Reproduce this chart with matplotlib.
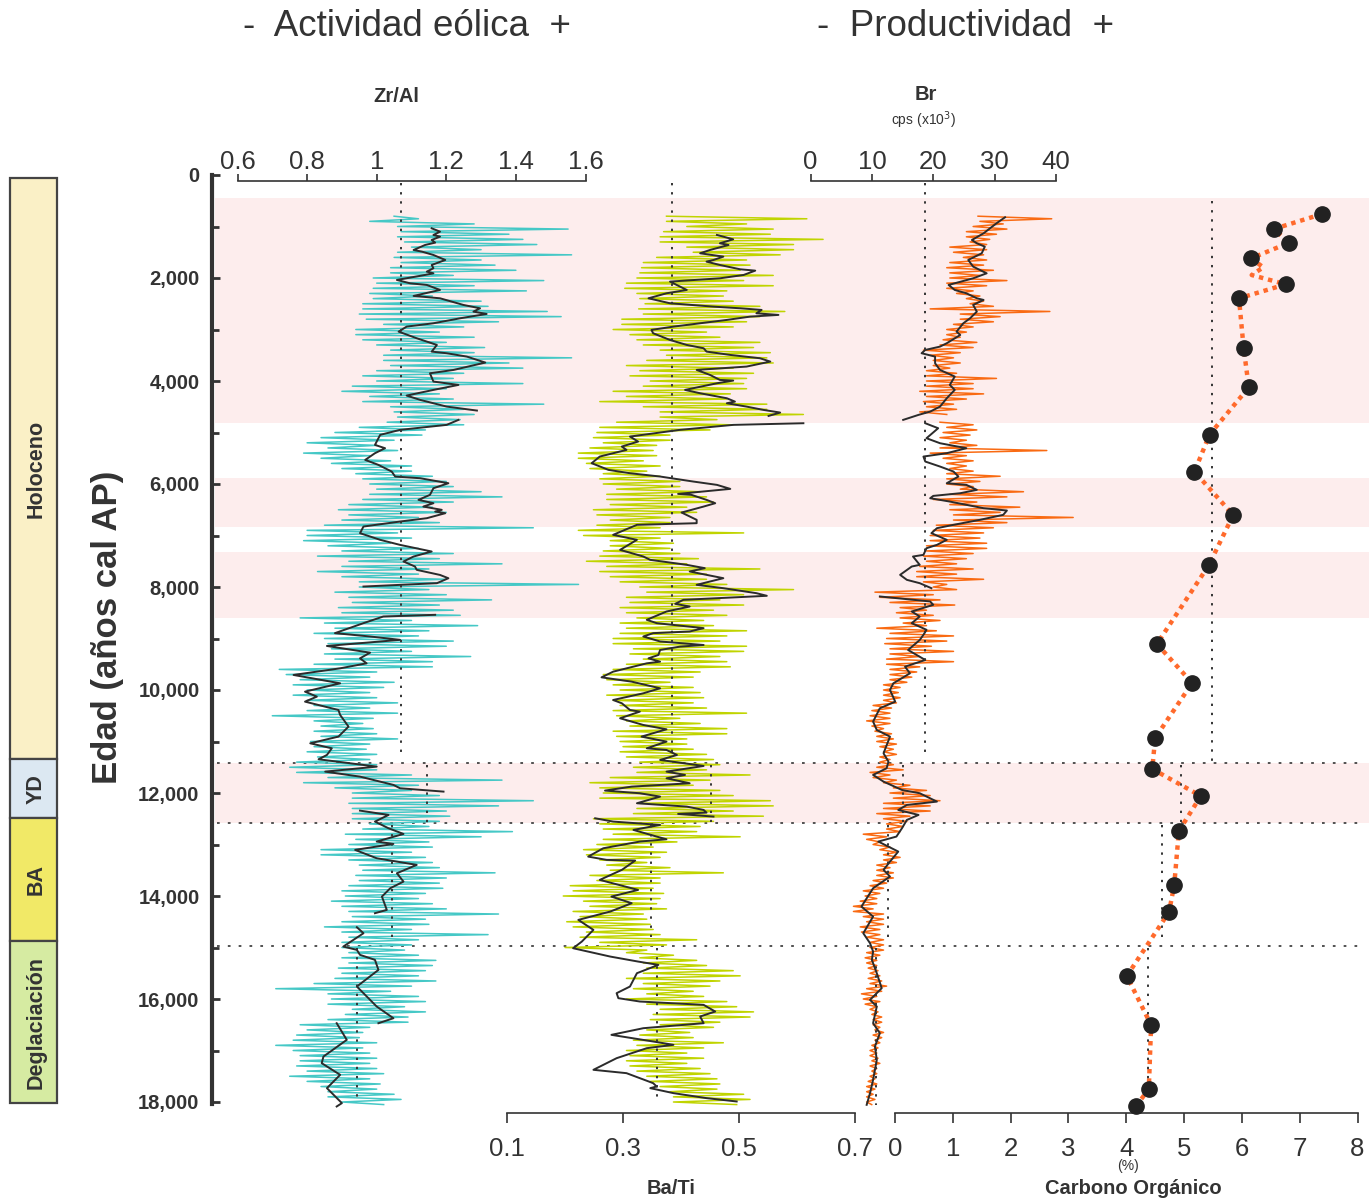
import numpy as np
import matplotlib.pyplot as plt
from matplotlib.patches import Rectangle

plt.rcParams['font.family'] = ['Liberation Sans', 'DejaVu Sans']
nan = np.nan
NARROW = ['Liberation Sans Narrow', 'Liberation Sans', 'DejaVu Sans']

# ---------------- datos ----------------
# muestreo de las series de alta resolucion: envolvente baja/alta cada 100 años
noisy_age = np.arange(800, 18001, 100)

zr_lo = [1.05, 0.98,
         1.06, 1.07, 1.06, 1.08, 1.10, 1.06, 1.05, 1.07, 1.04, 1.04,
         0.99, 1.00, 0.99, 0.98, 0.99, 0.96, 0.96, 0.95, 0.97, 1.02,
         0.94, 0.94, 0.96, 1.00, 1.04, 1.02, 1.02, 1.04, 1.00, 0.96,
         1.00, 0.93, 0.90, 0.98, 0.96, 1.04, 1.05, 1.06, 1.03, 0.95,
         0.88, 0.84, 0.80, 0.86, 0.79, 0.84, 0.87, 0.90, 0.94, 0.96,
         0.98, 1.00, 0.98, 0.96, 0.92, 0.89, 0.92, 0.90, 0.85, 0.80,
         0.80, 0.79, 0.86, 0.90, 0.83, 0.92, 0.90, 0.83, 0.90, 0.95,
         0.95, 0.88, 0.92, 0.93, 0.89, 0.90, 0.78, 0.85, 0.88, 0.82,
         0.85, 0.86, 0.87, 0.85, 0.88, 0.82, 0.72, 0.74, 0.78, 0.76,
         0.80, 0.76, 0.80, 0.82, 0.80, 0.70, 0.82, 0.84, 0.82, 0.84,
         0.81, 0.82, 0.80, 0.83, 0.77, 0.75, 0.77, 0.86, 0.79, 0.88,
         0.93, 0.93, 0.92, 0.93, 0.93, 0.93, 0.98, 0.96, 0.91, 0.94,
         0.92, 0.84, 0.84, 0.92, 0.95, 0.96, 0.94, 0.95, 0.92, 0.90,
         0.91, 0.87, 0.90, 0.92, 0.93, 0.90, 0.85, 0.90, 0.92, 0.90,
         0.90, 0.92, 0.90, 0.92, 0.89, 0.90, 0.88, 0.82, 0.71, 0.86,
         0.87, 0.86, 0.93, 0.91, 0.86, 0.78, 0.80, 0.77, 0.76, 0.71,
         0.76, 0.78, 0.78, 0.77, 0.80, 0.75, 0.80, 0.84, 0.86, 0.86,
         0.90]
zr_hi = [1.12, 1.28,
         1.55, 1.38, 1.42, 1.46, 1.30, 1.56, 1.30, 1.34, 1.40, 1.22,
         1.48, 1.28, 1.43, 1.16, 1.30, 1.32, 1.49, 1.53, 1.35, 1.25,
         1.18, 1.28, 1.20, 1.31, 1.28, 1.56, 1.38, 1.42, 1.25, 1.22,
         1.42, 1.20, 1.18, 1.22, 1.48, 1.25, 1.28, 1.24, 1.25, 1.14,
         1.13, 1.05, 1.00, 1.06, 0.98, 1.04, 1.10, 1.10, 1.16, 1.20,
         1.22, 1.30, 1.36, 1.22, 1.16, 1.20, 1.12, 1.18, 1.45, 1.06,
         1.10, 1.04, 1.12, 1.22, 1.18, 1.36, 1.15, 1.12, 1.20, 1.58,
         1.15, 1.20, 1.33, 1.18, 1.22, 1.24, 1.10, 1.29, 1.15, 1.12,
         1.22, 1.20, 1.10, 1.27, 1.16, 1.16, 1.00, 0.98, 1.05, 1.02,
         0.98, 1.00, 1.06, 0.98, 1.06, 0.99, 0.96, 0.99, 1.00, 1.06,
         0.98, 0.97, 1.00, 0.98, 1.00, 1.00, 1.10, 1.36, 1.12, 1.10,
         1.18, 1.45, 1.35, 1.20, 1.21, 1.18, 1.15, 1.39, 1.30, 1.15,
         1.16, 1.10, 1.14, 1.16, 1.18, 1.34, 1.20, 1.18, 1.19, 1.14,
         1.12, 1.16, 1.20, 1.35, 1.14, 1.15, 1.10, 1.32, 1.12, 1.10,
         1.08, 1.12, 1.17, 1.16, 1.14, 1.12, 1.17, 1.10, 1.04, 1.12,
         1.14, 1.08, 1.14, 1.09, 1.09, 0.98, 0.96, 0.95, 1.00, 0.96,
         0.98, 1.00, 0.98, 1.00, 1.02, 0.98, 1.01, 1.00, 1.05, 1.07,
         1.02]

ba_lo = [0.375, 0.375,
         0.410, 0.370, 0.364, 0.364, 0.410, 0.421, 0.358, 0.335, 0.332, 0.329,
         0.324, 0.306, 0.303, 0.324, 0.329, 0.338, 0.327, 0.335, 0.298, 0.298,
         0.283, 0.312, 0.324, 0.335, 0.364, 0.375, 0.341, 0.306, 0.329, 0.312,
         0.347, 0.335, 0.283, 0.306, 0.260, 0.335, 0.364, 0.364, 0.289, 0.260,
         0.255, 0.249, 0.266, 0.243, 0.223, 0.223, 0.237, 0.243, 0.266, 0.260,
         0.266, 0.289, 0.272, 0.272, 0.278, 0.249, 0.255, 0.278, 0.255, 0.223,
         0.232, 0.278, 0.278, 0.266, 0.260, 0.237, 0.272, 0.260, 0.278, 0.295,
         0.329, 0.341, 0.306, 0.312, 0.295, 0.306, 0.324, 0.295, 0.306, 0.295,
         0.283, 0.283, 0.318, 0.312, 0.335, 0.306, 0.283, 0.266, 0.272, 0.283,
         0.295, 0.272, 0.283, 0.295, 0.283, 0.289, 0.306, 0.312, 0.283, 0.289,
         0.295, 0.300, 0.295, 0.306, 0.329, 0.318, 0.324, 0.278, 0.243, 0.260,
         0.266, 0.260, 0.329, 0.324, 0.318, 0.249, 0.260, 0.266, 0.283, 0.266,
         0.255, 0.232, 0.237, 0.260, 0.272, 0.278, 0.243, 0.255, 0.209, 0.214,
         0.197, 0.232, 0.243, 0.214, 0.226, 0.203, 0.214, 0.237, 0.226, 0.260,
         0.200, 0.306, 0.329, 0.335, 0.341, 0.335, 0.306, 0.335, 0.318, 0.341,
         0.306, 0.341, 0.364, 0.352, 0.347, 0.364, 0.341, 0.329, 0.318, 0.324,
         0.306, 0.312, 0.306, 0.312, 0.324, 0.341, 0.347, 0.364, 0.381, 0.387,
         0.387]
ba_hi = [0.617, 0.513,
         0.559, 0.554, 0.645, 0.594, 0.594, 0.571, 0.513, 0.519, 0.502, 0.559,
         0.508, 0.559, 0.479, 0.473, 0.490, 0.536, 0.579, 0.536, 0.513, 0.490,
         0.444, 0.467, 0.536, 0.525, 0.554, 0.548, 0.559, 0.490, 0.525, 0.513,
         0.508, 0.513, 0.485, 0.479, 0.548, 0.548, 0.611, 0.462, 0.490, 0.450,
         0.381, 0.381, 0.358, 0.352, 0.358, 0.335, 0.364, 0.341, 0.364, 0.398,
         0.398, 0.433, 0.444, 0.456, 0.410, 0.427, 0.381, 0.381, 0.364, 0.508,
         0.364, 0.387, 0.381, 0.398, 0.430, 0.410, 0.536, 0.444, 0.444, 0.479,
         0.594, 0.508, 0.467, 0.508, 0.456, 0.479, 0.439, 0.456, 0.513, 0.479,
         0.467, 0.513, 0.508, 0.467, 0.479, 0.485, 0.433, 0.421, 0.381, 0.421,
         0.433, 0.439, 0.421, 0.444, 0.513, 0.398, 0.433, 0.479, 0.479, 0.410,
         0.410, 0.421, 0.444, 0.456, 0.467, 0.444, 0.519, 0.450, 0.421, 0.467,
         0.490, 0.554, 0.559, 0.490, 0.542, 0.456, 0.433, 0.427, 0.502, 0.393,
         0.352, 0.375, 0.364, 0.341, 0.381, 0.473, 0.364, 0.364, 0.352, 0.370,
         0.364, 0.358, 0.375, 0.335, 0.341, 0.347, 0.352, 0.364, 0.427, 0.375,
         0.341, 0.387, 0.427, 0.444, 0.490, 0.502, 0.467, 0.450, 0.421, 0.439,
         0.479, 0.496, 0.525, 0.519, 0.467, 0.456, 0.415, 0.421, 0.473, 0.439,
         0.410, 0.439, 0.410, 0.433, 0.450, 0.462, 0.467, 0.462, 0.508, 0.519,
         0.496]

br_lo = [27.3, 27.6,
         26.5, 25.4, 25.4, 26.0, 22.7, 23.3, 24.9, 22.7, 22.2, 22.7,
         22.7, 22.2, 22.2, 23.8, 25.4, 26.0, 19.5, 24.4, 24.4, 23.3,
         22.2, 22.2, 21.6, 21.1, 18.4, 19.5, 20.0, 20.0, 18.9, 18.9,
         18.9, 18.9, 17.8, 18.9, 18.4, 18.9, 17.8, nan, 21.1, 22.2,
         21.6, 21.1, 22.7, 21.1, 19.5, 21.6, 22.2, 22.7, 22.2, 22.2,
         22.2, 24.4, 22.7, 20.0, 22.7, 22.7, 23.3, 23.3, 20.5, 20.0,
         19.5, 19.5, 18.9, 18.9, 18.4, 18.9, 17.8, 17.3, 17.3, 18.4,
         20.0, 10.5, 11.3, 12.95, 14.6, 14.0, 14.6, 15.1, 10.8, 12.95,
         12.4, 12.1, 12.95, 12.95, 12.4, 12.4, 12.95, 12.95, 12.95, 11.9,
         11.9, 11.9, 11.9, 10.2, 10.0, 9.7, 9.15, 10.0, 10.5, 10.8,
         10.8, 11.3, 11.9, 11.3, 11.3, 10.8, 9.7, 10.2, 11.9, 13.5,
         12.95, 13.5, 11.9, 11.9, 10.8, 11.9, 12.4, 12.4, 8.6, 9.15,
         10.2, 11.3, 11.9, 11.9, 10.8, 10.8, 10.8, 10.2, 9.7, 8.6,
         8.9, 8.1, 7.0, 7.0, 8.6, 9.15, 8.1, 8.3, 9.15, 9.7,
         9.7, 9.15, 8.9, 9.15, 9.4, 9.7, 9.4, 9.7, 9.15, 8.3,
         8.6, 8.9, 9.7, 10.0, 10.2, 10.2, 10.5, 10.2, 10.5, 10.0,
         9.7, 9.7, 10.0, 9.7, 10.0, 9.7, 9.4, 9.15, 9.15, 9.15,
         9.15]
br_hi = [39.3, 31.4,
         32.0, 30.3, 29.2, 28.7, 28.7, 28.2, 28.7, 28.2, 29.8, 27.6,
         32.0, 28.7, 26.5, 27.6, 28.2, 29.8, 39.0, 30.9, 29.8, 26.5,
         25.4, 24.4, 27.1, 26.5, 24.4, 23.3, 24.4, 22.7, 23.8, 30.3,
         26.5, 26.5, 28.2, 25.4, 23.3, 23.8, 22.2, nan, 26.5, 27.1,
         26.0, 25.4, 27.1, 38.5, 25.4, 26.5, 25.4, 26.5, 30.9, 27.6,
         26.5, 34.7, 32.0, 27.1, 34.1, 30.9, 42.8, 32.0, 29.8, 28.2,
         27.6, 28.7, 28.7, 26.5, 25.4, 23.8, 26.5, 23.8, 28.2, 22.2,
         23.8, 20.0, 21.1, 23.5, 18.9, 20.0, 21.1, 18.9, 20.5, 23.3,
         22.2, 19.7, 23.3, 17.8, 23.3, 17.8, 17.3, 16.5, 15.7, 14.6,
         14.3, 14.6, 14.0, 13.2, 12.95, 12.95, 12.95, 11.9, 13.2, 13.5,
         14.0, 13.5, 14.0, 12.95, 13.5, 15.1, 12.95, 14.0, 16.2, 18.9,
         19.5, 21.1, 19.5, 19.5, 16.2, 15.7, 15.1, 14.6, 12.4, 11.3,
         12.95, 14.0, 14.6, 14.0, 12.95, 13.5, 13.5, 12.4, 11.9, 11.3,
         10.8, 10.8, 10.2, 11.9, 11.9, 11.9, 11.3, 11.3, 11.9, 11.9,
         11.9, 11.3, 10.8, 10.8, 11.0, 11.3, 11.6, 12.4, 11.6, 10.8,
         11.3, 10.8, 11.0, 11.6, 11.6, 11.3, 11.9, 11.6, 11.3, 11.0,
         10.8, 11.0, 11.3, 10.8, 10.8, 10.5, 10.8, 10.5, 10.2, 10.5,
         9.97]

# curvas suavizadas (negro), nan = corte
zr_sm_age = [1035, 1100, 1165, 1197, 1262, 1313, 1359, 1456, 1488, 1553,
             1650, 1747, 1811, 1876, 1909, 1941, 2038, 2103, 2135, 2232,
             2348, 2394, 2523, 2588, 2653, 2698, 2782, 2879, 2944, 3041,
             3170, 3300, 3429, 3461, 3526, 3642, 3785, 3850, 4011, 4076,
             4173, 4283, 4367, 4432, 4497, 4574, nan,
             4755, 4852, 4949, 5046, 5241, 5305, 5402, 5532, 5629, 5758,
             5855, 5888, 5985, 6082, 6211, 6308, 6373, 6438, 6502, 6535,
             6567, 6664, 6729, 6826, 6955, 7084, 7182, 7311, 7408, 7505,
             7602, 7667, 7766, 7830, 7926, 7991, nan,
             8540, 8573, 8702, 8896, 8961, 9026, 9145, 9275, 9385, 9482,
             9579, 9708, 9870, 10032, 10129, 10226, 10388, 10485, 10711, 10905,
             11035, 11132, 11261, 11345, 11488, 11585, 11682, 11843, 11908, 11973, nan,
             12342, 12426, 12555, 12685, 12795, 12943, 12989, 13105, 13267, 13396,
             13558, 13720, 13849, 14011, 14270, 14334, nan,
             14606, 14723, 14982, 15046, 15143, 15240, 15435, 15758, 16146, 16373, 16470, nan,
             16470, 16793, 17117, 17246, 17472, 17731, 18022, 18087]
zr_sm_val = [1.158, 1.182, 1.163, 1.182, 1.158, 1.168, 1.139, 1.106, 1.130, 1.163,
             1.197, 1.158, 1.163, 1.144, 1.163, 1.139, 1.058, 1.096, 1.144, 1.182,
             1.106, 1.182, 1.249, 1.297, 1.278, 1.316, 1.240, 1.163, 1.086, 1.063,
             1.115, 1.173, 1.158, 1.201, 1.259, 1.312, 1.221, 1.153, 1.163, 1.235,
             1.163, 1.086, 1.125, 1.163, 1.201, 1.288, nan,
             1.235, 1.201, 1.067, 1.010, 0.995, 1.024, 0.995, 0.967, 1.005, 1.043,
             1.053, 1.125, 1.206, 1.163, 1.153, 1.120, 1.163, 1.134, 1.187, 1.168,
             1.197, 1.144, 1.067, 0.962, 0.952, 1.010, 1.067, 1.158, 1.106, 1.077,
             1.110, 1.115, 1.182, 1.206, 1.173, 0.962, nan,
             1.168, 1.019, 0.962, 0.880, 0.981, 1.067, 0.857, 0.981, 0.952, 0.971,
             0.895, 0.761, 0.895, 0.794, 0.828, 0.794, 0.890, 0.895, 0.919, 0.890,
             0.809, 0.871, 0.857, 0.833, 1.000, 0.852, 0.952, 1.048, 1.067, 1.192, nan,
             0.952, 1.034, 0.995, 1.034, 1.077, 1.000, 1.048, 0.938, 1.000, 1.115,
             1.058, 1.077, 1.039, 1.015, 1.029, 0.995, nan,
             0.943, 0.962, 0.904, 0.943, 0.952, 0.995, 1.005, 0.943, 1.000, 1.048, 1.005, nan,
             0.885, 0.914, 0.847, 0.842, 0.895, 0.857, 0.900, 0.885]

ba_sm_age = [1164, 1249, 1326, 1359, 1456, 1520, 1585, 1650, 1682, 1747,
             1831, 1857, 1941, 2006, 2070, 2232, 2297, 2394, 2491, 2556,
             2588, 2620, 2685, 2717, 2750, 2814, 2879, 2944, 3008, 3073,
             3203, 3300, 3364, 3429, 3494, 3558, 3623, 3720, 3785, 3882,
             3979, 3992, 4044, 4173, 4238, 4335, 4400, 4432, 4497, 4561,
             4613, 4678, nan,
             4820, 4852, 4949, 5079, 5176, 5273, 5338, 5467, 5596, 5726,
             5791, 5855, 5952, 6017, 6095, 6192, 6211, 6308, 6373, 6438,
             6554, 6696, 6761, 6793, 6987, 7084, 7279, 7408, 7473, 7570,
             7634, 7699, 7829, 7958, 8023, 8120, 8171, 8249, 8327, 8379,
             8476, 8637, 8702, 8799, 8864, 8896, 8961, 9058,
             9126, 9158, 9223, 9320, 9385, 9450, 9482, 9579, 9644, 9754,
             9838, 9967, 10064, 10194, 10258, 10388, 10420, 10549, 10679, 10763,
             10905, 11002, 11132, 11164, 11261, 11358, 11475, 11585, 11649, 11714,
             11811, 11876, 11953, 12005, 12070, 12199, 12264, 12329, 12381, 12406,
             12458, nan,
             12491, 12555, 12620, 12717, 12846, 12898, 12943, 13073, 13235, 13299,
             13312, 13493, 13687, 13882, 14011, 14140, 14302, 14464, 14658, 14885,
             15014, 15176, 15273, 15337, 15499, 15758, 15887, 15984, 16049, 16114,
             16243, 16340, 16470, 16567, 16696, 16825, 16890, 16955, 17149, 17375,
             17440, 17634, 17699, 17731, 17828, 17925, 17990]
ba_sm_val = [0.462, 0.490, 0.467, 0.482, 0.450, 0.433, 0.473, 0.456, 0.444, 0.467,
             0.502, 0.528, 0.508, 0.467, 0.381, 0.410, 0.375, 0.344, 0.381, 0.456,
             0.502, 0.539, 0.530, 0.568, 0.519, 0.479, 0.433, 0.387, 0.349, 0.352,
             0.381, 0.410, 0.439, 0.444, 0.485, 0.536, 0.554, 0.513, 0.427, 0.450,
             0.467, 0.490, 0.462, 0.407, 0.433, 0.479, 0.493, 0.479, 0.513, 0.542,
             0.571, 0.551, nan,
             0.611, 0.490, 0.398, 0.312, 0.326, 0.298, 0.306, 0.260, 0.246, 0.275,
             0.312, 0.364, 0.421, 0.462, 0.485, 0.395, 0.418, 0.444, 0.459, 0.439,
             0.401, 0.427, 0.427, 0.324, 0.283, 0.324, 0.295, 0.335, 0.347, 0.410,
             0.441, 0.415, 0.473, 0.427, 0.473, 0.530, 0.548, 0.404, 0.390, 0.415,
             0.375, 0.341, 0.358, 0.439, 0.415, 0.352, 0.335, 0.364,
             0.439, 0.398, 0.364, 0.361, 0.344, 0.364, 0.341, 0.306, 0.283, 0.263,
             0.315, 0.364, 0.335, 0.283, 0.298, 0.312, 0.329, 0.295, 0.335, 0.375,
             0.332, 0.375, 0.341, 0.375, 0.393, 0.364, 0.439, 0.375, 0.407, 0.375,
             0.415, 0.315, 0.269, 0.329, 0.364, 0.324, 0.410, 0.439, 0.444, 0.395,
             0.456, nan,
             0.252, 0.283, 0.364, 0.318, 0.358, 0.375, 0.329, 0.266, 0.240, 0.272,
             0.321, 0.298, 0.260, 0.326, 0.280, 0.315, 0.278, 0.223, 0.249, 0.229,
             0.214, 0.278, 0.326, 0.361, 0.324, 0.312, 0.289, 0.292, 0.329, 0.439,
             0.459, 0.433, 0.439, 0.335, 0.280, 0.352, 0.387, 0.341, 0.289, 0.249,
             0.306, 0.352, 0.358, 0.347, 0.387, 0.444, 0.496]

br_sm_age = [821, 938, 1132, 1262, 1326, 1391, 1520, 1650, 1779, 1909,
             2006, 2135, 2232, 2297, 2394, 2426, 2523, 2653, 2782, 2879,
             3041, 3106, 3267, 3332, 3397, 3461, 3526, 3656, 3785, 3914,
             4076, 4173, 4335, 4497, 4594, 4658, 4755, nan,
             4820, 4917, 5111, 5208, 5305, 5402, 5467, 5564, 5661, 5758,
             5855, 5985, 6017, 6114, 6179, 6231, 6276, 6341, 6405, 6470,
             6515, 6599, 6696, 6793, 6858, 6955, 7084, 7182, 7247, 7376,
             7408, 7570, 7602, 7764, 7861, 7926, 8023, nan,
             8184, 8281, 8346, 8476, 8573, 8702, 8831, 8928, 9029, 9223,
             9417, 9547, 9676, 9870, 9999, 10226, 10355, 10614, 10776, 10905,
             11229, 11391, 11520, 11649, 11779, 11941, 12005, 12167, 12232, 12329,
             12426, 12523, 12685, 12846, 12943, 13137, 13332, 13493, 13622, 13849,
             14205, 14399, 14723, 14917, 15079, 15240, 15499, 15790, 16017, 16146,
             16470, 16664, 16922, 17181, 17569, 17828, 18055]
br_sm_val = [31.7, 30.3, 28.2, 26.3, 27.1, 28.4, 27.9, 25.7, 26.5, 28.7,
             26.5, 22.5, 23.5, 25.4, 27.1, 28.2, 26.5, 27.1, 26.0, 24.9,
             23.8, 24.4, 22.2, 21.1, 18.7, 18.1, 20.3, 20.3, 21.1, 23.5,
             22.7, 23.5, 22.2, 21.1, 19.5, 17.6, 15.1, nan,
             18.7, 20.8, 18.9, 21.1, 25.4, 22.2, 18.4, 18.7, 21.1, 23.3,
             24.1, 22.2, 25.4, 27.1, 24.4, 20.0, 19.5, 22.7, 25.4, 28.2,
             32.0, 31.4, 27.6, 23.3, 20.6, 19.7, 22.2, 20.6, 18.9, 18.4,
             16.7, 17.8, 16.5, 14.6, 15.7, 17.8, 19.7, nan,
             11.3, 19.5, 20.0, 16.5, 17.8, 16.5, 18.9, 18.4, 17.8, 15.9,
             18.7, 15.4, 16.2, 13.5, 12.95, 13.8, 11.3, 10.2, 10.8, 12.95,
             11.9, 12.7, 12.4, 10.2, 11.9, 14.9, 17.8, 20.6, 15.7, 14.3,
             17.6, 15.7, 14.9, 14.0, 11.05, 14.3, 12.95, 11.9, 12.95, 10.2,
             8.3, 10.2, 8.6, 9.7, 10.2, 10.0, 10.8, 11.6, 9.7, 10.8,
             10.2, 11.3, 10.5, 10.8, 10.2, 9.7, 9.15]

# Carbono organico (%)
co_age = [757, 1049, 1314, 1618, 2123, 2395, 3353, 4124, 5042, 5761, 6602, 7573,
          9107, 9864, 10932, 11534, 12058, 12738, 13786, 14311, 15553, 16505, 17748, 18078]
co_val = [7.39, 6.55, 6.82, 6.16, 6.76, 5.95, 6.03, 6.12, 5.44, 5.18, 5.85, 5.43,
          4.53, 5.14, 4.50, 4.45, 5.29, 4.91, 4.83, 4.74, 4.01, 4.43, 4.39, 4.17]
co_line_age = [757, 1049, 1314, 1618, 1793, 1942, 2123, 2395, 3353, 4124, 5042, 5761,
               6602, 7573, 9107, 9864, 10932, 11534, 12058, 12738, 13786, 14311,
               15553, 16505, 17748, 18078]
co_line_val = [7.39, 6.55, 6.82, 6.16, 6.37, 6.17, 6.76, 5.95, 6.03, 6.12, 5.44, 5.18,
               5.85, 5.43, 4.53, 5.14, 4.50, 4.45, 5.29, 4.91, 4.83, 4.74,
               4.01, 4.43, 4.39, 4.17]

# medias por periodo: (valor, edad inicio, edad fin)
zr_mean = [(1.070, 150, 11300), (1.144, 11450, 12590), (1.045, 12620, 14850), (0.943, 15010, 17930)]
ba_mean = [(0.384, 150, 11260), (0.452, 11450, 12560), (0.348, 12620, 14850), (0.358, 15010, 17930)]
br_mean = [(18.66, 150, 11290), (15.13, 11450, 12560), (12.68, 12620, 14920), (10.6, 15010, 18060)]
co_mean = [(5.48, 500, 11400), (4.95, 11450, 12560), (4.62, 12620, 14900), (4.38, 15010, 18000)]

# bandas sombreadas y limites
bands = [(450, 4820), (5890, 6830), (7330, 8610), (11420, 12590)]
hlines = [11420, 12580, 14970]

periods = ['Holoceno', 'YD', 'BA', 'Deglaciación']
period_edges = [60, 11340, 12490, 14880, 18020]
period_colors = ['#faf0c6', '#dce8f2', '#f1e967', '#d6eba2']

age_ticks = list(range(0, 18001, 2000))

# ---------------- figura ----------------
W, H = 1369, 1202
fig = plt.figure(figsize=(W / 100, H / 100), dpi=100)

Y0, Y1 = 175, 1113           # px de edad 0 y del eje inferior
AGE_BOT = (Y1 - Y0) / 0.0515
DARK = '#333333'


def add_ax(x0, x1):
    ax = fig.add_axes([x0 / W, 1 - Y1 / H, (x1 - x0) / W, (Y1 - Y0) / H])
    ax.set_ylim(AGE_BOT, 0)
    ax.patch.set_alpha(0)
    for s in ax.spines.values():
        s.set_visible(False)
    ax.set_yticks([])
    ax.set_xticks([])
    return ax


# eje principal de edad + bandas
ax0 = add_ax(212, W)
ax0.set_xlim(0, 1)
for a, b in bands:
    ax0.axhspan(a, b, xmin=0.003, xmax=1, color='#fdeded', lw=0, zorder=0)
for h in hlines:
    ax0.plot([0.004, 0.996], [h, h], color='#444444', lw=1.3, ls=(0, (1.5, 4.5)), zorder=1)
ax0.spines['left'].set_visible(True)
ax0.spines['left'].set_linewidth(3)
ax0.spines['left'].set_color(DARK)
ax0.spines['left'].set_bounds(0, 18040)
ax0.set_yticks(age_ticks)
ax0.set_yticks(list(range(1000, 18000, 2000)), minor=True)
ax0.set_yticklabels([f'{t:,}' for t in age_ticks])
ax0.tick_params(axis='y', which='major', direction='in', length=6, width=2,
                color=DARK, labelsize=14.5, labelcolor=DARK, pad=9)
ax0.tick_params(axis='y', which='minor', direction='in', length=5, width=2, color=DARK)
for t in ax0.get_yticklabels():
    t.set_fontweight('bold')

fig.text(108 / W, 1 - 627 / H, 'Edad (años cal AP)', rotation=90, ha='center', va='center',
         fontsize=25, fontweight='bold', color=DARK)

# columna cronoestratigrafica
axc = add_ax(10, 57)
axc.set_xlim(0, 1)
for name, top, bot, col in zip(periods, period_edges[:-1], period_edges[1:], period_colors):
    axc.add_patch(Rectangle((0, top), 1, bot - top, facecolor=col, edgecolor='#444444', lw=1.6,
                            clip_on=False))
    axc.text(0.55, (top + bot) / 2, name, rotation=90, ha='center', va='center',
             fontsize=15.5, fontweight='bold', color=DARK)


def noisy(ax, lo, hi, color):
    a = np.column_stack([noisy_age, noisy_age + 50]).ravel()
    v = np.column_stack([lo, hi]).ravel()
    ax.plot(v, a, color=color, lw=1.1, clip_on=False, zorder=2)


def means(ax, segs):
    for v, a0, a1 in segs:
        ax.plot([v, v], [a0, a1], color='#333333', lw=1.4, ls=(0, (1.2, 3.5)), zorder=4)


def top_axis(ax, ticks, labels):
    ax.spines['top'].set_visible(True)
    ax.spines['top'].set_position(('data', 117))
    ax.spines['top'].set_color(DARK)
    ax.spines['top'].set_linewidth(1.2)
    ax.xaxis.set_ticks_position('top')
    ax.set_xticks(ticks)
    ax.set_xticklabels(labels, family=NARROW)
    ax.tick_params(axis='x', direction='out', length=5, width=1.2, color=DARK,
                   labelsize=18.5, labelcolor=DARK, pad=0)


def bottom_axis(ax, ticks, labels):
    ax.spines['bottom'].set_visible(True)
    ax.spines['bottom'].set_color(DARK)
    ax.spines['bottom'].set_linewidth(1.2)
    ax.xaxis.set_ticks_position('bottom')
    ax.set_xticks(ticks)
    ax.set_xticklabels(labels, family=NARROW)
    ax.tick_params(axis='x', direction='out', length=7, width=1.2, color=DARK,
                   labelsize=18.5, labelcolor=DARK, pad=10)


# Zr/Al
ax1 = add_ax(237.5, 585.5)
ax1.set_xlim(0.6, 1.6)
noisy(ax1, zr_lo, zr_hi, '#45c8c6')
ax1.plot(zr_sm_val, zr_sm_age, color='#2b2b2b', lw=1.4, zorder=3, clip_on=False)
means(ax1, zr_mean)
top_axis(ax1, [0.6, 0.8, 1.0, 1.2, 1.4, 1.6], ['0.6', '0.8', '1', '1.2', '1.4', '1.6'])

# Ba/Ti
ax2 = add_ax(507, 855)
ax2.set_xlim(0.1, 0.7)
noisy(ax2, ba_lo, ba_hi, '#c0d400')
ax2.plot(ba_sm_val, ba_sm_age, color='#2b2b2b', lw=1.4, zorder=3, clip_on=False)
means(ax2, ba_mean)
bottom_axis(ax2, [0.1, 0.3, 0.5, 0.7], ['0.1', '0.3', '0.5', '0.7'])

# Br
ax3 = add_ax(810.5, 1056)
ax3.set_xlim(0, 40)
noisy(ax3, br_lo, br_hi, '#f96a12')
ax3.plot(br_sm_val, br_sm_age, color='#2b2b2b', lw=1.4, zorder=3, clip_on=False)
means(ax3, br_mean)
top_axis(ax3, [0, 10, 20, 30, 40], ['0', '10', '20', '30', '40'])

# Carbono organico
ax4 = add_ax(895, 1357.5)
ax4.set_xlim(0, 8)
means(ax4, co_mean)
ax4.plot(co_line_val, co_line_age, color='#ff6a2c', lw=3.2, ls=(0, (1, 1.1)), zorder=3,
         clip_on=False)
ax4.plot(co_val, co_age, 'o', color='#222222', ms=11, zorder=5, clip_on=False)
bottom_axis(ax4, list(range(9)), [str(i) for i in range(9)])

# textos
fig.text(407 / W, 1 - 27 / H, '-  Actividad eólica  +', ha='center', va='center',
         fontsize=26.5, color=DARK)
fig.text(966 / W, 1 - 27 / H, '-  Productividad  +', ha='center', va='center',
         fontsize=26.5, color=DARK)
fig.text(396 / W, 1 - 97 / H, 'Zr/Al', ha='center', va='center', fontsize=14.5,
         fontweight='bold', color=DARK)
fig.text(926 / W, 1 - 95 / H, 'Br', ha='center', va='center', fontsize=14.5,
         fontweight='bold', color=DARK)
fig.text(923 / W, 1 - 120 / H, 'cps (x10$^3$)', ha='center', va='center', fontsize=10,
         color=DARK)
fig.text(671 / W, 1 - 1188 / H, 'Ba/Ti', ha='center', va='center', fontsize=14.5,
         fontweight='bold', color=DARK)
fig.text(1128 / W, 1 - 1166 / H, '(%)', ha='center', va='center', fontsize=10, color=DARK)
fig.text(1133 / W, 1 - 1188 / H, 'Carbono Orgánico', ha='center', va='center', fontsize=14.5,
         fontweight='bold', color=DARK)

fig.savefig('out.png', dpi=100)
